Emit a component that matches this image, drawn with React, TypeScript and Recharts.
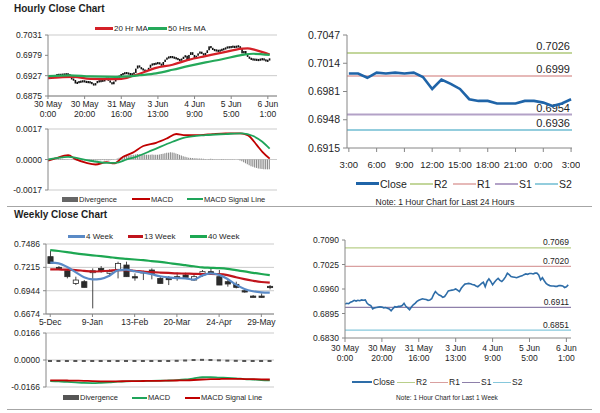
import React from "react";
import { ComposedChart, LineChart, Line, Bar, XAxis, YAxis, CartesianGrid, ReferenceLine } from "recharts";

// hourly closes, 30 May 0:00 -> 6 Jun ~2:00 (shared by the hourly candle chart and the 1-week line chart)
const hourlyClose = [
  0.692, 0.6922, 0.6921, 0.6925, 0.6927, 0.693, 0.6928, 0.693, 0.6929, 0.6931,
  0.693, 0.6931, 0.6922, 0.6918, 0.6916, 0.6907, 0.691, 0.6911, 0.6912, 0.6913,
  0.6912, 0.691, 0.6911, 0.6909, 0.6907, 0.6902, 0.6908, 0.6913, 0.6912, 0.6914,
  0.6914, 0.6916, 0.6922, 0.6914, 0.691, 0.6905, 0.6912, 0.6918, 0.6922, 0.6927,
  0.693, 0.6932, 0.6934, 0.6933, 0.6932, 0.693, 0.6931, 0.6934, 0.6945, 0.6953,
  0.6948, 0.6944, 0.6942, 0.6938, 0.694, 0.6947, 0.6955, 0.6956, 0.6957, 0.6958,
  0.696, 0.6957, 0.6953, 0.6962, 0.6968, 0.6973, 0.6974, 0.6975, 0.6974, 0.6972,
  0.6971, 0.6968, 0.6966, 0.697, 0.6975, 0.6978, 0.6966, 0.698, 0.6987, 0.698,
  0.6971, 0.6978, 0.6984, 0.6988, 0.6983, 0.698, 0.6985, 0.6992, 0.7002, 0.6998,
  0.6993, 0.6992, 0.6991, 0.699, 0.6992, 0.6994, 0.6995, 0.6998, 0.7, 0.6999,
  0.7001, 0.7001, 0.7, 0.7002, 0.7002, 0.6997, 0.6984, 0.699, 0.6982, 0.6975,
  0.6971, 0.6969, 0.6968, 0.6968, 0.6967, 0.6967, 0.6969, 0.6969, 0.6968, 0.6964,
  0.6966, 0.6971,
];
const hourlyFirstOpen = 0.6921;

const hourTickIdx = [0, 20, 40, 60, 80, 100, 120];
const hourTickDay = ["30 May", "30 May", "31 May", "3 Jun", "4 Jun", "5 Jun", "6 Jun"];
const hourTickTime = ["0:00", "20:00", "16:00", "13:00", "9:00", "5:00", "1:00"];

// moving averages / macd read at key hours  [hour index, value]
const ma20Pts: [number, number][] = [
  [0, 0.6921], [14, 0.6924], [23, 0.6919], [37, 0.6918], [43, 0.6921], [46, 0.6926], [50, 0.6932],
  [59, 0.6947], [68, 0.6955], [77, 0.6968], [86, 0.6977], [95, 0.6986], [106, 0.6996], [109, 0.6997],
  [113, 0.6993], [118, 0.6986], [121, 0.6981],
];
const ma50Pts: [number, number][] = [
  [0, 0.6926], [12, 0.6928], [23, 0.6925], [37, 0.6924], [44, 0.6925], [50, 0.6928], [59, 0.6933],
  [68, 0.6942], [77, 0.6952], [86, 0.6961], [95, 0.6969], [106, 0.698], [112, 0.6983], [121, 0.698],
];
const macdPts: [number, number][] = [
  [0, -0.00007], [4, 0.00006], [11, 0.00024], [15, 0.00002], [21, -0.00019], [26, -0.00028],
  [32, -0.00015], [36, -0.00022], [41, 0.00015], [46, 0.00037], [52, 0.00075], [59, 0.00093],
  [65, 0.00118], [70, 0.00142], [75, 0.00136], [83, 0.00136], [90, 0.00142], [97, 0.00146],
  [105, 0.00146], [109, 0.00136], [114, 0.0008], [117, 0.00043], [121, 0.00005],
];
const signalPts: [number, number][] = [
  [0, 0], [11, 0.00015], [23, -0.00007], [32, -0.00019], [37, -0.00019], [43, 0], [48, 0.00015],
  [57, 0.00052], [68, 0.00099], [75, 0.00123], [86, 0.00136], [97, 0.00142], [106, 0.00146],
  [112, 0.00131], [117, 0.00099], [121, 0.0006],
];
const hourlyDiv = [
  0, 0, 0.00002, 0.00003, 0.00004, 0.00004, 0.00005, 0.00005, 0.00004, 0.00003,
  0.00002, 0.00001, 0, -0.00002, -0.00003, -0.00004, -0.00005, -0.00005, -0.00006, -0.00006,
  -0.00005, -0.00006, -0.00007, -0.00006, -0.00007, -0.00008, -0.00006, -0.00005, -0.00004, -0.00004,
  -0.00003, -0.00004, -0.00004, -0.00005, -0.00004, -0.00003, -0.00002, 0, 0.00005, 0.0001,
  0.00013, 0.00016, 0.00019, 0.0002, 0.00022, 0.00024, 0.00025, 0.00026, 0.00028, 0.0003,
  0.00029, 0.00028, 0.00027, 0.00028, 0.00027, 0.00026, 0.00027, 0.00028, 0.00027, 0.00026,
  0.00027, 0.00028, 0.0003, 0.00032, 0.00035, 0.00037, 0.00038, 0.0004, 0.00039, 0.00037,
  0.00034, 0.0003, 0.00026, 0.00022, 0.00018, 0.00015, 0.00012, 0.0001, 0.00009, 0.00008,
  0.00007, 0.00007, 0.00006, 0.00006, 0.00005, 0.00004, 0.00003, 0.00002, 0.00003, 0.00004,
  0.00003, 0.00002, 0.00002, 0.00001, 0.00002, 0.00003, 0.00002, 0.00001, 0.00002, 0.00002,
  0.00001, 0.00002, 0.00001, 0, -0.00002, -0.00005, -0.0001, -0.00015, -0.00021, -0.00027,
  -0.00032, -0.00037, -0.00041, -0.00044, -0.00047, -0.0005, -0.00052, -0.00053, -0.00054, -0.00055,
  -0.00055, -0.00054,
];

// last 24 hours
const dayClose = [
  0.7002, 0.7002, 0.6997, 0.7003, 0.7002, 0.7003, 0.7002, 0.7003, 0.6998, 0.6984, 0.6995, 0.699,
  0.6984, 0.6972, 0.697, 0.697, 0.6967, 0.6967, 0.6967, 0.697, 0.697, 0.6968, 0.6964, 0.6967, 0.6972,
];
const dayTickIdx = [0, 3, 6, 9, 12, 15, 18, 21, 24];
const dayTickLabels = ["3:00", "6:00", "9:00", "12:00", "15:00", "18:00", "21:00", "0:00", "3:00"];
const dayLevelNames = ["R2", "R1", "S1", "S2"];
const dayLevels = [0.7026, 0.6999, 0.6954, 0.6936];
const weekLevels = [0.7069, 0.702, 0.6911, 0.6851];

// weekly
const weekLabels = [
  "5-Dec", "12-Dec", "19-Dec", "26-Dec", "2-Jan", "9-Jan", "16-Jan", "23-Jan", "30-Jan", "6-Feb",
  "13-Feb", "20-Feb", "27-Feb", "6-Mar", "13-Mar", "20-Mar", "27-Mar", "3-Apr", "10-Apr", "17-Apr",
  "24-Apr", "1-May", "8-May", "15-May", "22-May", "29-May", "5-Jun",
];
const weekOpen = [
  0.7339, 0.7215, 0.7176, 0.7029, 0.7049, 0.7153, 0.7203, 0.7146, 0.7192, 0.7242, 0.7107, 0.7165, 0.7184,
  0.7087, 0.7087, 0.7107, 0.7126, 0.7068, 0.7126, 0.7165, 0.7107, 0.7049, 0.7018, 0.6944, 0.6882, 0.6882, 0.6995,
];
const weekHigh = [
  0.7409, 0.723, 0.7192, 0.7107, 0.7068, 0.7203, 0.723, 0.7192, 0.7281, 0.7281, 0.7145, 0.7176, 0.7203,
  0.7107, 0.7114, 0.7153, 0.7153, 0.7126, 0.7184, 0.7203, 0.7184, 0.7068, 0.7049, 0.696, 0.6894, 0.6913, 0.701,
];
const weekLow = [
  0.7261, 0.7184, 0.7087, 0.701, 0.6983, 0.6739, 0.7153, 0.7107, 0.7087, 0.7107, 0.706, 0.7068, 0.7076,
  0.7029, 0.701, 0.706, 0.7087, 0.706, 0.7107, 0.7145, 0.701, 0.6991, 0.6971, 0.6921, 0.6867, 0.6863, 0.696,
];
const weekClose = [
  0.7261, 0.72, 0.7107, 0.7068, 0.6983, 0.7176, 0.7165, 0.7165, 0.7261, 0.7107, 0.7095, 0.7157, 0.7145,
  0.7029, 0.7076, 0.7099, 0.7099, 0.7107, 0.7165, 0.7153, 0.701, 0.7022, 0.6983, 0.6929, 0.6874, 0.6878, 0.6983,
];
const ma4w = [
  0.7269, 0.7261, 0.722, 0.716, 0.71, 0.7076, 0.7082, 0.7118, 0.718, 0.7188, 0.717, 0.7155, 0.7135,
  0.7112, 0.7099, 0.709, 0.7087, 0.7072, 0.712, 0.7145, 0.7128, 0.708, 0.7015, 0.6965, 0.6938, 0.6925, 0.6921,
];
const ma13w = [
  0.7192, 0.719, 0.7188, 0.7184, 0.7175, 0.7167, 0.717, 0.7176, 0.7184, 0.7183, 0.7175, 0.7165, 0.716,
  0.7155, 0.715, 0.7145, 0.7143, 0.714, 0.7138, 0.7138, 0.7136, 0.7125, 0.71, 0.7078, 0.706, 0.7045, 0.7037,
];
const ma40w = [
  0.7416, 0.7405, 0.7392, 0.7378, 0.7366, 0.7355, 0.7345, 0.7334, 0.7322, 0.7314, 0.7306, 0.7298, 0.7288,
  0.7278, 0.7266, 0.7252, 0.724, 0.7228, 0.7214, 0.721, 0.7206, 0.7198, 0.7182, 0.7168, 0.7152, 0.7138, 0.7126,
];
const weekMacd = [
  -0.013, -0.0132, -0.0135, -0.0138, -0.0141, -0.0142, -0.014, -0.0137, -0.0133, -0.0131, -0.013, -0.0129, -0.0128,
  -0.0127, -0.0126, -0.0124, -0.012, -0.0113, -0.0106, -0.0105, -0.0108, -0.011, -0.0113, -0.0117, -0.012, -0.0123, -0.0125,
];
const weekSignal = [
  -0.0125, -0.0125, -0.0126, -0.0127, -0.0128, -0.013, -0.0131, -0.0131, -0.0131, -0.013, -0.013, -0.0129, -0.0128,
  -0.0128, -0.0127, -0.0126, -0.0125, -0.0123, -0.012, -0.0118, -0.0117, -0.0116, -0.0116, -0.0117, -0.0118, -0.0119, -0.012,
];
const weekDiv = [
  -0.0004, -0.0005, -0.0005, -0.0006, -0.0008, -0.0007, -0.0005, -0.0004, -0.0002, -0.0002, -0.0002, -0.0001, -0.0001,
  -0.0001, -0.0001, 0.0001, 0.0003, 0.0006, 0.0007, 0.0006, 0.0004, 0.0002, 0.0001, -0.0001, -0.0001, -0.0003, -0.0004,
];

const lookup = (pts: [number, number][]) => {
  const m = new Map(pts);
  return (i: number) => (m.has(i) ? (m.get(i) as number) : null);
};
const ma20At = lookup(ma20Pts);
const ma50At = lookup(ma50Pts);
const macdAt = lookup(macdPts);
const signalAt = lookup(signalPts);

const hourlyRows = hourlyClose.map((c, i) => {
  const o = i === 0 ? hourlyFirstOpen : hourlyClose[i - 1];
  return {
    i,
    close: c,
    body: [Math.min(o, c), Math.max(o, c)],
    ma20: ma20At(i),
    ma50: ma50At(i),
    macd: macdAt(i),
    signal: signalAt(i),
    div: hourlyDiv[i],
  };
});
const dayRows = dayClose.map((c, h) => ({ h, close: c }));
const weekRows = weekLabels.map((w, i) => ({
  w,
  range: [weekLow[i], weekHigh[i]],
  open: weekOpen[i],
  high: weekHigh[i],
  low: weekLow[i],
  close: weekClose[i],
  ma4: ma4w[i],
  ma13: ma13w[i],
  ma40: ma40w[i],
  macd: weekMacd[i],
  signal: weekSignal[i],
  div: weekDiv[i],
}));

const FONT = '"Liberation Sans", Arial, sans-serif';
const AXIS = "#868686";
const GRID = "#CBCBCB";
const TXT = "#1e1e1e";
const fmt4 = (v: number) => v.toFixed(4);

// hourly candle: body from previous close to close, never thinner than ~2px
const HourBody = (p: any) => {
  const h0 = Math.abs(p.height || 0);
  const top = Math.min(p.y, p.y + (p.height || 0));
  const h = Math.max(h0, 2.2);
  return <rect x={p.x + p.width / 2 - 0.8} y={top - (h - h0) / 2} width={1.6} height={h} fill="#111" />;
};

const WeekCandle = (p: any) => {
  const { x, width, payload } = p;
  const top = Math.min(p.y, p.y + p.height);
  const span = Math.abs(p.height);
  const k = span / Math.max(payload.high - payload.low, 1e-9);
  const yAt = (v: number) => top + (payload.high - v) * k;
  const cx = x + width / 2;
  const up = payload.close >= payload.open;
  const b1 = yAt(Math.max(payload.open, payload.close));
  const b2 = yAt(Math.min(payload.open, payload.close));
  return (
    <g>
      <line x1={cx} x2={cx} y1={top} y2={top + span} stroke="#333" strokeWidth={0.9} />
      <rect x={cx - 2.6} y={b1} width={5.2} height={Math.max(b2 - b1, 1.3)} fill={up ? "#fff" : "#2b2b2b"} stroke="#2b2b2b" strokeWidth={0.8} />
    </g>
  );
};

const SmallDiv = (p: any) => {
  const h0 = Math.abs(p.height || 0);
  const top = Math.min(p.y, p.y + (p.height || 0));
  const h = Math.max(h0, 2);
  return <rect x={p.x} y={top} width={p.width} height={h} fill="#555" />;
};

const TwoLineTick = (p: any) => {
  const k = hourTickIdx.indexOf(p.payload.value);
  return (
    <text x={p.x} y={p.y} textAnchor="middle" fontSize={p.fs} fill={TXT} fontFamily={FONT}>
      <tspan x={p.x} dy="0.71em">{hourTickDay[k]}</tspan>
      <tspan x={p.x} dy="1.15em">{hourTickTime[k]}</tspan>
    </text>
  );
};

const levelLabel = (text: string, fs: number, dy: number) => (props: any) => {
  const vb = props.viewBox || {};
  return (
    <text x={vb.x + vb.width - 2} y={vb.y - dy} textAnchor="end" fontSize={fs} fill={TXT} fontFamily={FONT}>
      {text}
    </text>
  );
};

type Item = { x: number; label: string; color: string; w: number; t: number };
const LegendRow = ({ y, fs, items }: { y: number; fs: number; items: Item[] }) => (
  <>
    {items.map((it) => (
      <div
        key={it.label}
        style={{
          position: "absolute",
          left: it.x,
          top: y - fs * 0.65,
          height: fs * 1.3,
          display: "flex",
          alignItems: "center",
          fontSize: fs,
          whiteSpace: "nowrap",
          color: TXT,
        }}
      >
        <span style={{ display: "inline-block", width: it.w, height: it.t, background: it.color, marginRight: 1 }} />
        {it.label}
      </div>
    ))}
  </>
);

const abs = (left: number, top: number): React.CSSProperties => ({ position: "absolute", left, top });

const dayColors = ["#C3D69B", "#E6B9B8", "#B3A2C7", "#93CDDD"];
const weekColors = ["#B9CF8A", "#D9A0A0", "#8E80AA", "#86C8DC"];

export default function App() {
  const yTick8 = { fontSize: 8.5, fill: TXT, fontFamily: FONT };
  return (
    <div style={{ position: "fixed", left: 0, top: 0, width: 600, height: 413, background: "#fff", fontFamily: FONT, overflow: "hidden" }}>
      <div style={{ ...abs(14, 3), fontSize: 10, fontWeight: "bold", lineHeight: "12px", color: TXT }}>Hourly Close Chart</div>
      <div style={{ ...abs(14, 209), fontSize: 10, fontWeight: "bold", lineHeight: "12px", color: TXT }}>Weekly Close Chart</div>
      <div style={{ ...abs(7, 206), width: 585, height: 1, background: "#A6A6A6" }} />
      <div style={{ ...abs(7, 409), width: 585, height: 1, background: "#A6A6A6" }} />

      {/* hourly candles */}
      <div style={abs(0, 0)}>
        <ComposedChart width={285} height={125} data={hourlyRows} margin={{ top: 35, right: 8, bottom: 0, left: 0 }}>
          <CartesianGrid vertical={false} stroke={GRID} />
          <XAxis dataKey="i" type="number" domain={[0, 125]} allowDataOverflow ticks={hourTickIdx} interval={0}
            height={29} tickSize={3} tickMargin={2} stroke={AXIS} tick={<TwoLineTick fs={8.5} />} />
          <YAxis domain={[0.6875, 0.7031]} allowDataOverflow ticks={[0.6875, 0.6927, 0.6979, 0.7031]} width={48}
            tickFormatter={fmt4} tick={yTick8} tickSize={3} tickMargin={3} stroke={AXIS} />
          <Bar dataKey="body" barSize={1.6} shape={(p: any) => <HourBody {...p} />} isAnimationActive={false} />
          <Line dataKey="ma20" type="monotone" connectNulls stroke="#D42027" strokeWidth={2.2} dot={false} isAnimationActive={false} />
          <Line dataKey="ma50" type="monotone" connectNulls stroke="#25A95A" strokeWidth={2.2} dot={false} isAnimationActive={false} />
        </ComposedChart>
      </div>
      <LegendRow y={29} fs={8} items={[
        { x: 95, label: "20 Hr MA", color: "#D42027", w: 18, t: 3 },
        { x: 148, label: "50 Hrs MA", color: "#25A95A", w: 19, t: 3 },
      ]} />

      {/* hourly macd */}
      <div style={abs(0, 120)}>
        <ComposedChart width={285} height={75} data={hourlyRows} margin={{ top: 9, right: 8, bottom: 5, left: 0 }}>
          <CartesianGrid vertical={false} stroke={GRID} />
          <XAxis dataKey="i" type="number" domain={[0, 125]} allowDataOverflow hide />
          <YAxis domain={[-0.0017, 0.0017]} allowDataOverflow ticks={[-0.0017, 0, 0.0017]} width={48}
            tickFormatter={fmt4} tick={yTick8} tickSize={3} tickMargin={3} stroke={AXIS} />
          <Bar dataKey="div" barSize={1.1} fill="#8C8C8C" isAnimationActive={false} />
          <Line dataKey="macd" type="monotone" connectNulls stroke="#C00000" strokeWidth={1.8} dot={false} isAnimationActive={false} />
          <Line dataKey="signal" type="monotone" connectNulls stroke="#1FA45A" strokeWidth={1.8} dot={false} isAnimationActive={false} />
        </ComposedChart>
      </div>
      <LegendRow y={199} fs={7.5} items={[
        { x: 62, label: "Divergence", color: "#666", w: 16, t: 5 },
        { x: 132, label: "MACD", color: "#C00000", w: 18, t: 2 },
        { x: 187, label: "MACD Signal Line", color: "#1FA45A", w: 16, t: 2 },
      ]} />

      {/* last 24 hours */}
      <div style={abs(290, 0)}>
        <LineChart width={290} height={170} data={dayRows} margin={{ top: 35, right: 8, bottom: 0, left: 0 }}>
          <XAxis dataKey="h" type="number" domain={[-0.2, 24.1]} allowDataOverflow ticks={dayTickIdx} interval={0}
            tickFormatter={(v: number) => dayTickLabels[dayTickIdx.indexOf(v)]} height={22} tickSize={4} tickMargin={9}
            stroke={AXIS} tick={{ fontSize: 9.5, fill: TXT, fontFamily: FONT }} />
          <YAxis domain={[0.6915, 0.7047]} allowDataOverflow ticks={[0.6915, 0.6948, 0.6981, 0.7014, 0.7047]} width={57}
            tickFormatter={fmt4} tick={{ fontSize: 10.5, fill: TXT, fontFamily: FONT }} tickSize={4} tickMargin={3} stroke={AXIS} />
          {dayLevels.map((v, k) => (
            <ReferenceLine key={dayLevelNames[k]} y={v} stroke={dayColors[k]} strokeWidth={2}
              label={levelLabel(v.toFixed(4), 11, 3)} />
          ))}
          <Line dataKey="close" stroke="#1F64A8" strokeWidth={2.6} dot={false} isAnimationActive={false} />
        </LineChart>
      </div>
      <LegendRow y={184} fs={10.5} items={[
        { x: 356, label: "Close", color: "#1F64A8", w: 23, t: 3 },
        ...dayLevelNames.map((n, k) => ({ x: [410, 453, 495, 535][k], label: n, color: dayColors[k], w: 23, t: 2 })),
      ]} />
      <div style={{ ...abs(345, 197), width: 200, textAlign: "center", fontSize: 8.5, color: TXT }}>
        Note: 1 Hour Chart for Last 24 Hours
      </div>

      {/* weekly candles */}
      <div style={abs(0, 200)}>
        <ComposedChart width={282} height={130} data={weekRows} margin={{ top: 44, right: 8, bottom: 0, left: 0 }}>
          <CartesianGrid vertical={false} stroke={GRID} />
          <XAxis dataKey="w" interval={4} height={16} tickSize={3} tickMargin={2} stroke={AXIS} tick={yTick8} />
          <YAxis domain={[0.6674, 0.7486]} allowDataOverflow ticks={[0.6674, 0.6944, 0.7215, 0.7486]} width={46}
            tickFormatter={fmt4} tick={yTick8} tickSize={3} tickMargin={3} stroke={AXIS} />
          <Bar dataKey="range" barSize={5} shape={(p: any) => <WeekCandle {...p} />} isAnimationActive={false} />
          <Line dataKey="ma40" type="monotone" stroke="#1DA752" strokeWidth={2.2} dot={false} isAnimationActive={false} />
          <Line dataKey="ma13" type="monotone" stroke="#C0141C" strokeWidth={2.2} dot={false} isAnimationActive={false} />
          <Line dataKey="ma4" type="monotone" stroke="#5A8AC6" strokeWidth={2.2} dot={false} isAnimationActive={false} />
        </ComposedChart>
      </div>
      <LegendRow y={236.5} fs={8} items={[
        { x: 68, label: "4 Week", color: "#5A8AC6", w: 17, t: 3 },
        { x: 128, label: "13 Week", color: "#C0141C", w: 15, t: 3 },
        { x: 190, label: "40 Week", color: "#1DA752", w: 17, t: 3 },
      ]} />

      {/* weekly macd */}
      <div style={abs(0, 325)}>
        <ComposedChart width={282} height={67} data={weekRows} margin={{ top: 8, right: 8, bottom: 5, left: 0 }}>
          <CartesianGrid vertical={false} stroke={GRID} />
          <XAxis dataKey="w" hide />
          <YAxis domain={[-0.0166, 0.0166]} allowDataOverflow ticks={[-0.0166, 0, 0.0166]} width={46}
            tickFormatter={fmt4} tick={yTick8} tickSize={3} tickMargin={3} stroke={AXIS} />
          <Bar dataKey="div" barSize={4} shape={(p: any) => <SmallDiv {...p} />} isAnimationActive={false} />
          <Line dataKey="macd" type="monotone" stroke="#1FA45A" strokeWidth={1.8} dot={false} isAnimationActive={false} />
          <Line dataKey="signal" type="monotone" stroke="#C00000" strokeWidth={1.8} dot={false} isAnimationActive={false} />
        </ComposedChart>
      </div>
      <LegendRow y={397.5} fs={7.5} items={[
        { x: 63, label: "Divergence", color: "#555", w: 16, t: 5 },
        { x: 132, label: "MACD", color: "#1FA45A", w: 15, t: 2 },
        { x: 185, label: "MACD Signal Line", color: "#C00000", w: 15, t: 2 },
      ]} />

      {/* last week, hourly close */}
      <div style={abs(290, 200)}>
        <LineChart width={290} height={166} data={hourlyRows} margin={{ top: 40, right: 9, bottom: 0, left: 0 }}>
          <XAxis dataKey="i" type="number" domain={[0, 122.5]} allowDataOverflow ticks={hourTickIdx} interval={0}
            height={28} tickSize={4} tickMargin={3} stroke={AXIS} tick={<TwoLineTick fs={8.5} />} />
          <YAxis domain={[0.683, 0.709]} allowDataOverflow ticks={[0.683, 0.6895, 0.696, 0.7025, 0.709]} width={55}
            tickFormatter={fmt4} tick={yTick8} tickSize={3} tickMargin={3} stroke={AXIS} />
          {weekLevels.map((v, k) => (
            <ReferenceLine key={dayLevelNames[k]} y={v} stroke={weekColors[k]} strokeWidth={1.2}
              label={levelLabel(v.toFixed(4), 8.5, 2.5)} />
          ))}
          <Line dataKey="close" stroke="#2E6DA8" strokeWidth={1.6} dot={false} isAnimationActive={false} />
        </LineChart>
      </div>
      <LegendRow y={382.5} fs={8.5} items={[
        { x: 352, label: "Close", color: "#2E6DA8", w: 20, t: 2 },
        ...dayLevelNames.map((n, k) => ({ x: [397, 430, 462, 493][k], label: n, color: weekColors[k], w: 18, t: 1.2 })),
      ]} />
      <div style={{ ...abs(347, 394), width: 200, textAlign: "center", fontSize: 6.5, color: TXT }}>
        Note: 1 Hour Chart for Last 1 Week
      </div>
    </div>
  );
}
